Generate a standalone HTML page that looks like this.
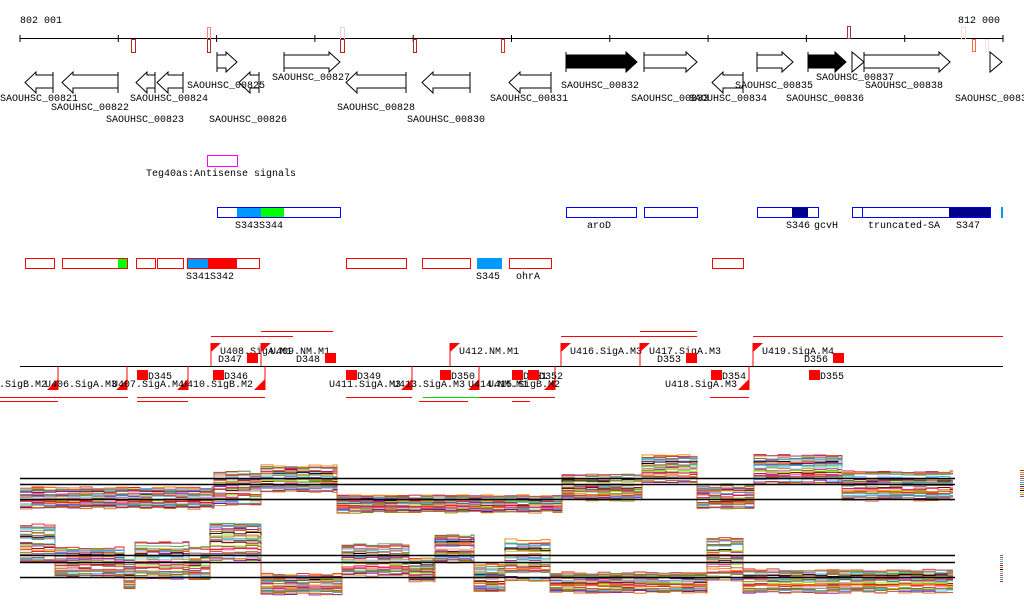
<!DOCTYPE html>
<html><head><meta charset="utf-8">
<style>
html,body{margin:0;padding:0;background:#fff;width:1024px;height:611px;overflow:hidden}
svg{display:block}
text{font-family:"Liberation Mono",monospace;font-size:10px;fill:#000}
</style></head><body>
<svg id="s" width="1024" height="611" xmlns="http://www.w3.org/2000/svg">
<text x="20" y="23">802 001</text>
<text x="958" y="23">812 000</text>
<line x1="20" y1="38.5" x2="1003" y2="38.5" stroke="#000"/>
<g id="g"></g>
</svg>
<script>
var g=document.getElementById('g'),h='';
function A(s){h+=s;}
for(var i=0;i<=10;i++){var x=20+i*98.3;A('<line x1="'+x+'" y1="35" x2="'+x+'" y2="42" stroke="#000"/>');}
[[131,39,4,13,'#b22'],[207,27,3,12,'#e87'],[207,39,3,13,'#b22'],[340,27,4,12,'#ecd'],[340,39,4,13,'#b22'],[413,39,3,13,'#b22'],[501,39,3,13,'#c33'],[847,26,3,12,'#a33'],[961,27,4,12,'#fdc'],[972,39,3,12,'#f64'],[985,39,3,12,'#fdd']].forEach(function(m){A('<rect x="'+(m[0]+.5)+'" y="'+(m[1]+.5)+'" width="'+m[2]+'" height="'+m[3]+'" fill="none" stroke="'+m[4]+'"/>');});
function F(x0,x1,fill,noTail){var hx=Math.max(x0,x1-11);var p=noTail?(x0+','+52+' '+x1+',62 '+x0+',72'):(x0+',55 '+hx+',55 '+hx+',52 '+x1+',62 '+hx+',72 '+hx+',68 '+x0+',68');A('<polygon points="'+p+'" fill="'+(fill||'#fff')+'" stroke="#000"/>');if(!noTail)A('<line x1="'+x0+'" y1="52" x2="'+x0+'" y2="72" stroke="#000"/>');}
function R(x0,x1){var hx=Math.min(x1,x0+11);A('<polygon points="'+x1+',75 '+hx+',75 '+hx+',72 '+x0+',82.5 '+hx+',93 '+hx+',88 '+x1+',88" fill="#fff" stroke="#000"/><line x1="'+x1+'" y1="72" x2="'+x1+'" y2="93" stroke="#000"/>');}
F(217,237);F(284,340);F(566,637,'#000');F(644,697);F(757,793);F(808,846,'#000');F(852,864,null,1);F(864,950);F(990,1002,null,1);
R(25,53);R(62,118);R(136,155);R(157,183);R(239,259);R(346,406);R(422,470);R(509,551);R(712,743);
function T(x,y,t,a){A('<text x="'+x+'" y="'+y+'"'+(a||'')+'>'+t+'</text>');}
[[187,88,'00825'],[272,80,'00827'],[561,88,'00832'],[631,101,'00833'],[735,88,'00835'],[786,101,'00836'],[816,80,'00837'],[865,88,'00838'],[955,101,'00839'],
 [0,101,'00821'],[51,110,'00822'],[106,122,'00823'],[130,101,'00824'],[209,122,'00826'],[337,110,'00828'],[407,122,'00830'],[490,101,'00831'],[689,101,'00834']].forEach(function(l){T(l[0],l[1],'SAOUHSC_'+l[2]);});
A('<rect x="207.5" y="155.5" width="30" height="11" fill="none" stroke="#f0f"/>');T(146,176,'Teg40as:Antisense signals');
function B(x0,x1,y,c){A('<rect x="'+(x0+.5)+'" y="'+(y+.5)+'" width="'+(x1-x0)+'" height="10" fill="none" stroke="'+c+'"/>');}
function Fi(x0,x1,y,c){A('<rect x="'+x0+'" y="'+y+'" width="'+(x1-x0)+'" height="11" fill="'+c+'"/>');}
var y1=207;Fi(237,261,y1,'#09f');Fi(261,284,y1,'#0f0');Fi(792,808,y1,'#008');Fi(949,990,y1,'#008');
B(217,340,y1,'#00f');B(566,636,y1,'#00f');B(644,697,y1,'#00f');B(757,818,y1,'#00f');B(852,862,y1,'#00f');B(862,990,y1,'#00f');
A('<rect x="1001" y="207" width="2" height="11" fill="#09f"/>');
T(235,228,'S343S344');T(587,228,'aroD');T(786,228,'S346');T(814,228,'gcvH');T(868,228,'truncated-SA');T(956,228,'S347');
var y2=258;Fi(118,127,y2,'#0f0');Fi(187,208,y2,'#09f');Fi(208,237,y2,'#f00');Fi(477,502,y2,'#09f');
[[25,54],[62,127],[136,155],[157,183],[187,259],[346,406],[422,470],[509,551],[712,743]].forEach(function(b){B(b[0],b[1],y2,'#f00');});
T(186,279,'S341S342');T(476,279,'S345');T(516,279,'ohrA');
A('<line x1="20" y1="366.5" x2="1003" y2="366.5" stroke="#000"/>');
function L(x0,x1,y,c){A('<line x1="'+x0+'" y1="'+y+'" x2="'+x1+'" y2="'+y+'" stroke="'+(c||'#f00')+'"/>');}
L(211,293,336.5);L(261,333,331.5);L(561,697,336.5);L(640,697,331.5);L(753,1003,336.5);
L(0,128,397.5);L(0,58,401.5);L(137,265,397.5);L(137,188,401.5);L(346,412,397.5);L(423,479,397.5,'#0d0');L(419,468,401.5);L(479,555,397.5);L(512,530,401.5);L(710,749,397.5);
function UP(x,lab){A('<line x1="'+x+'" y1="343" x2="'+x+'" y2="366" stroke="#f00"/><polygon points="'+x+',343 '+(x+10)+',343 '+x+',352" fill="#f00"/>');T(x+9,354,lab);}
function DN(x,lab,lx){A('<line x1="'+x+'" y1="366" x2="'+x+'" y2="390" stroke="#f00"/><polygon points="'+x+',379 '+x+',390 '+(x-11)+',390" fill="#f00"/>');if(lab)T(lx,387,lab);}
UP(211,'U408.SigA.M1');UP(261,'U409.NM.M1');UP(450,'U412.NM.M1');UP(561,'U416.SigA.M3');UP(640,'U417.SigA.M3');UP(753,'U419.SigA.M4');
DN(58,'U405.SigB.M2',-25);DN(127,'U406.SigA.M3',45);DN(188,'U407.SigA.M4',112);DN(265,'U410.SigB.M2',181);DN(412,'U411.SigA.M3',329);DN(479,'U413.SigA.M3',393);DN(555,'U415.SigB.M2',488);DN(749,'U418.SigA.M3',665);T(468,387,'U414.NM.M1');
function D(x,up,lab){var y=up?353:370;A('<rect x="'+x+'" y="'+y+'" width="11" height="10" fill="#f00"/>');T(up?x-29:x+11,up?362:379,lab);}
D(247,1,'D347');D(325,1,'D348');D(686,1,'D353');D(833,1,'D356');D(137,0,'D345');D(213,0,'D346');D(346,0,'D349');D(440,0,'D350');D(512,0,'D351');D(528,0,'D352');D(711,0,'D354');D(809,0,'D355');
var pal=['#e41a1c','#ff7f00','#4daf4a','#984ea3','#a65628','#999','#33aaff','#808000','#8b008b','#d2691e','#000','#9acd32','#ff6347','#6a5acd','#20b2aa','#b8860b','#c71585','#87cefa','#556b2f','#f4a460','#800000','#7cfc00','#ff1493','#a0522d'];
var seed=7;function rnd(){seed=(seed*9301+49297)%233280;return seed/233280;}
function plot(segs,lines){
 for(var i=0;i<34;i++){var t=i/33,d='',c=pal[i%pal.length];
  segs.forEach(function(s){var tt=Math.min(1,Math.max(0,t+(rnd()-.5)*0.15));var base=s[2]+(s[3]-s[2])*tt;var y=base;
   for(var x=s[0];x<s[1];x+=12){y=base+(rnd()-.5)*2.5;var xe=Math.min(x+12,s[1]);d+=(d?'L':'M')+x+','+y.toFixed(1)+'L'+xe+','+y.toFixed(1);}});
  A('<path d="'+d+'" fill="none" stroke="'+c+'" stroke-width="0.9"/>');}
 lines.forEach(function(y){A('<line x1="20" y1="'+y+'" x2="955" y2="'+y+'" stroke="#000" stroke-width="1.5"/>');});
}
plot([[20,214,488,508],[214,261,472,505],[261,337,466,492],[337,562,496,512],[562,642,475,500],[642,697,456,482],[697,754,484,508],[754,842,455,483],[842,953,472,500]],[478.5,484.5,499.5]);
plot([[20,55,524,562],[55,124,548,576],[124,135,560,588],[135,189,542,578],[189,210,548,580],[210,261,522,560],[261,342,574,594],[342,409,545,576],[409,435,558,582],[435,474,535,562],[474,505,565,592],[505,550,540,580],[550,707,572,592],[707,743,538,580],[743,953,570,592]],[555.5,562.5,577.5]);
for(var k=0;k<14;k++){A('<rect x="1020" y="'+(470+k*2)+'" width="4" height="1" fill="'+pal[k]+'"/>');A('<rect x="1000" y="'+(555+k*2)+'" width="3" height="1" fill="'+pal[k+3]+'"/>');}
g.innerHTML=h;
</script>
</body></html>
